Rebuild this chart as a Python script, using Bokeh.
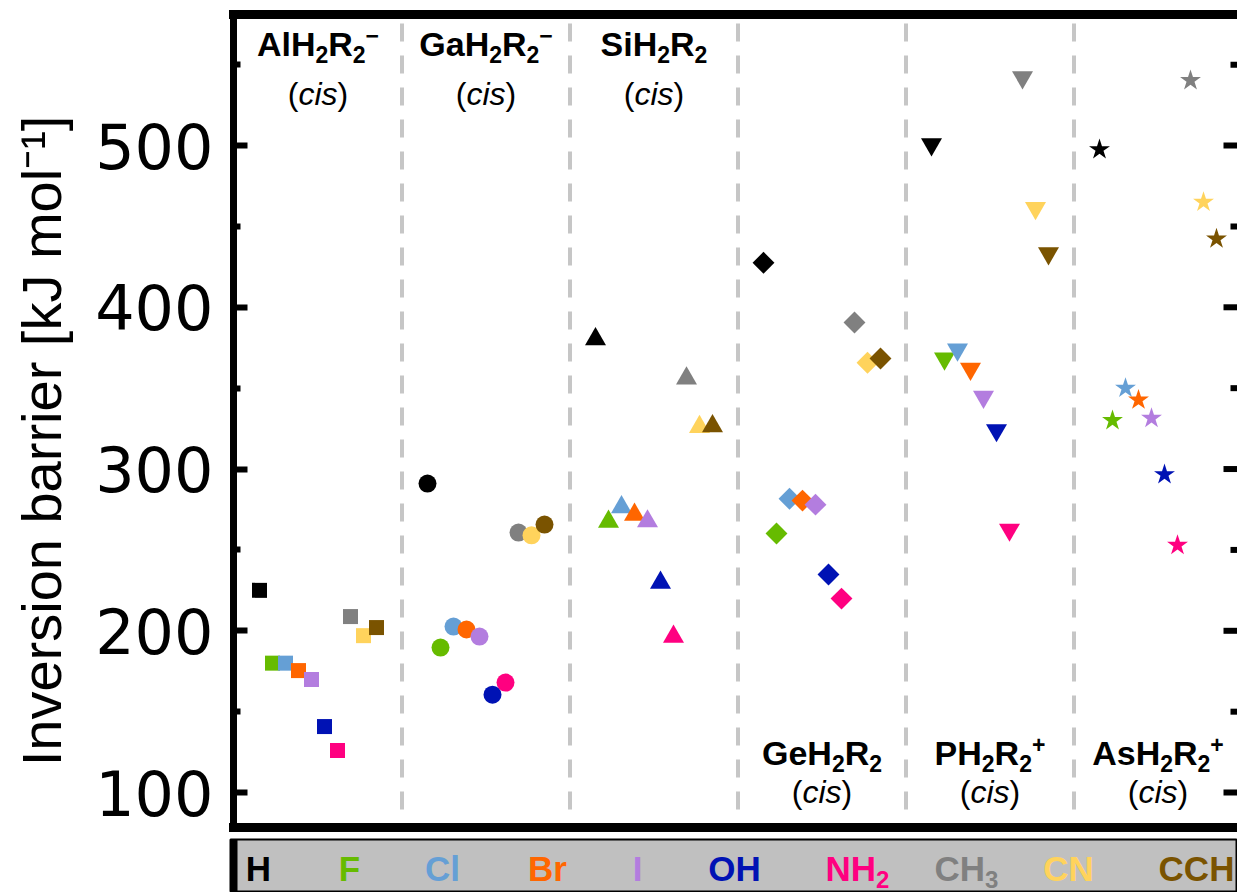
import math
from bokeh.plotting import figure
from bokeh.models import Range1d, LinearAxis, FixedTicker, ColumnDataSource
from bokeh.layouts import column, row
from bokeh.embed import file_html
from bokeh.resources import INLINE
from bokeh.core.properties import value

# ---------------- data ----------------
# "_x" = subscript character, "^x" = superscript character
substituents = ["H", "F", "Cl", "Br", "I", "OH", "NH_2", "CH_3", "CN", "CCH"]
sub_colors = ["#000000", "#66bb00", "#659fd5", "#ff6600", "#b37ddf",
              "#0012b4", "#ff0080", "#808080", "#ffd35c", "#7a5300"]

groups = ["AlH_2R_2^−", "GaH_2R_2^−", "SiH_2R_2", "GeH_2R_2", "PH_2R_2^+", "AsH_2R_2^+"]
group_markers = ["square", "circle", "triangle", "square", "inverted_triangle", "star"]

alh2r2 = [225, 180, 180, 175.4, 169.9, 140.8, 126, 208.8, 197, 202]
gah2r2 = [291, 189.6, 202.6, 200.8, 196.4, 160.5, 168, 260.7, 259, 265.7]
sih2r2 = [380.3, 267.5, 276.4, 271.8, 267.7, 229.8, 196.4, 356, 326, 326.5]
geh2r2 = [427.5, 260.1, 281.6, 280.5, 278, 234.8, 219.9, 390.6, 365.7, 368.3]
ph2r2 = [500.7, 368.3, 373.9, 362, 344.6, 324, 262.5, 542.2, 461.3, 433.4]
ash2r2 = [497.5, 330, 350, 342.7, 331.4, 296.6, 252.9, 540.2, 465, 442.3]
barriers = [alh2r2, gah2r2, sih2r2, geh2r2, ph2r2, ash2r2]

y_ticks = [100, 200, 300, 400, 500]
y_minor = [150, 250, 350, 450, 550]
y_title = "Inversion barrier [kJ mol⁻¹]"

# ---------------- layout / style ----------------
W = 1237
MAIN_H = 837
LEG_H = 55
TW = 80                      # width of the y-title strip
LEFT = 233                   # frame left edge in page pixels
PX_PER_GROUP = 168.0
GROUP0_PX = 317.5
SLOT = 13.0 / PX_PER_GROUP
X0 = (LEFT - GROUP0_PX) / PX_PER_GROUP
X1 = X0 + (W - LEFT) / PX_PER_GROUP
Y0, Y1 = 78.4, 581.0
FRAME_TOP, FRAME_BOT = 14, MAIN_H - 10
PX_PER_Y = (FRAME_BOT - FRAME_TOP) / (Y1 - Y0)
MID = 0.35                   # em-box middle above the baseline

FONT = "Liberation Sans"
BOLD_W = {"A": 722, "l": 278, "H": 722, "R": 722, "G": 778, "a": 556, "S": 667,
          "i": 278, "e": 556, "P": 667, "s": 556, "F": 611, "C": 722, "B": 722,
          "r": 389, "I": 278, "O": 778, "N": 722, "−": 584, "+": 584}
for d in "0123456789":
    BOLD_W[d] = 556


def parse(markup):
    parts, i = [], 0
    while i < len(markup):
        ch = markup[i]
        if ch in "_^" and i + 1 < len(markup):
            parts.append((markup[i + 1], "sub" if ch == "_" else "sup"))
            i += 2
        else:
            if parts and parts[-1][1] == "n":
                parts[-1] = (parts[-1][0] + ch, "n")
            else:
                parts.append((ch, "n"))
            i += 1
    return parts


def draw_formula(fig, markup, cx, base_y, color, size, small, x_per_px, y_per_px,
                 sub_drop=7, sup_rise=12):
    """base_y: alphabetic baseline of the main text (data units)."""
    parts = parse(markup)
    widths = []
    for txt, kind in parts:
        fs = size if kind == "n" else small
        widths.append(sum(BOLD_W.get(c, 600) for c in txt) / 1000 * fs)
    x = cx - sum(widths) / 2 * x_per_px
    for (txt, kind), w in zip(parts, widths):
        fs = size if kind == "n" else small
        shift = 0
        if kind == "sub":
            shift = -sub_drop
        elif kind == "sup":
            shift = sup_rise
        yy = base_y + (shift + MID * fs) * y_per_px
        fig.text(x=[x], y=[yy], text=[txt], text_color=color, text_font=value(FONT),
                 text_font_style="bold", text_font_size=f"{fs}px",
                 text_align="left", text_baseline="middle")
        x += w * x_per_px


def px_to_y(py):
    return Y0 + (FRAME_BOT - py) / PX_PER_Y


marker_sizes = {"square": 15, "circle": 18, "triangle": 21,
                "inverted_triangle": 21, "star": 22}

# ---------------- y-title strip ----------------
tfig = figure(width=TW, height=MAIN_H, x_range=Range1d(0, TW), y_range=Range1d(0, MAIN_H),
              output_backend="svg", toolbar_location=None,
              x_axis_location=None, y_axis_location=None, min_border=0,
              outline_line_color=None, background_fill_color="white", border_fill_color="white")
tfig.grid.visible = False
T_SIZE = 56
tfig.text(x=[61 - MID * T_SIZE], y=[MAIN_H - 774], text=[y_title], angle=math.pi / 2,
          text_align="left", text_baseline="middle", text_font=value(FONT),
          text_font_size=f"{T_SIZE}px", text_color="black")

# ---------------- main plot ----------------
p = figure(width=W - TW, height=MAIN_H, x_range=Range1d(X0, X1), y_range=Range1d(Y0, Y1),
           output_backend="svg", toolbar_location=None,
           x_axis_location=None, y_axis_location=None,
           min_border_left=LEFT - TW, min_border_right=0, min_border_top=FRAME_TOP,
           min_border_bottom=MAIN_H - FRAME_BOT,
           outline_line_color=None, background_fill_color="white", border_fill_color="white")
p.grid.visible = False

yax = LinearAxis(ticker=FixedTicker(ticks=y_ticks, minor_ticks=y_minor),
                 axis_line_width=7, axis_line_cap="square",
                 major_tick_in=14, major_tick_out=0, minor_tick_in=7, minor_tick_out=0,
                 major_tick_line_width=6, minor_tick_line_width=6,
                 major_label_text_font="DejaVu Sans", major_label_text_font_size="62px",
                 major_label_text_color="black", major_label_standoff=20)
p.add_layout(yax, "left")

for loc in ("above", "below"):
    ax = LinearAxis(ticker=FixedTicker(ticks=[]), axis_line_width=9, axis_line_cap="square",
                    major_tick_in=0, major_tick_out=0, major_label_standoff=0)
    p.add_layout(ax, loc)

# right-hand inward ticks
xr = X1 + 0.05
p.segment(x0=[X1 - 14 / PX_PER_GROUP] * len(y_ticks), y0=y_ticks, x1=[xr] * len(y_ticks),
          y1=y_ticks, line_color="black", line_width=6)
p.segment(x0=[X1 - 7 / PX_PER_GROUP] * len(y_minor), y0=y_minor, x1=[xr] * len(y_minor),
          y1=y_minor, line_color="black", line_width=6)

# dashed group separators
for g in range(len(groups) - 1):
    p.segment(x0=[g + 0.5], y0=[Y1 - 5.6], x1=[g + 0.5], y1=[Y0],
              line_color="#c6c6c6", line_width=4, line_dash="18 14")

# markers
for g, (vals, mk) in enumerate(zip(barriers, group_markers)):
    xs = [g + (i - 4.5) * SLOT for i in range(len(vals))]
    src = ColumnDataSource(dict(x=xs, y=vals, c=sub_colors))
    kw = {}
    size = marker_sizes[mk]
    if g == 3:
        kw["angle"] = math.pi / 4
        size = 15.5
    p.scatter("x", "y", source=src, marker=mk, size=size, fill_color="c",
              line_color=None, **kw)

# group labels
xpp = 1 / PX_PER_GROUP
ypp = 1 / PX_PER_Y
TOP_T, TOP_C = px_to_y(55), px_to_y(105)
BOT_T, BOT_C = px_to_y(764), px_to_y(803)
half = 19.5 * xpp
CIS = 32
for g, name in enumerate(groups):
    yt, yc = (TOP_T, TOP_C) if g < 3 else (BOT_T, BOT_C)
    draw_formula(p, name, g, yt, "black", 34, 23, xpp, ypp)
    ym = yc + MID * CIS * ypp
    common = dict(text_font=value(FONT), text_font_size=f"{CIS}px",
                  text_color="black", text_baseline="middle")
    p.text(x=[g - half], y=[ym], text=["("], text_align="right", **common)
    p.text(x=[g], y=[ym], text=["cis"], text_align="center", text_font_style="italic", **common)
    p.text(x=[g + half], y=[ym], text=[")"], text_align="left", **common)

# ---------------- legend strip ----------------
LEG_LEFT = 230
XL0 = (LEG_LEFT - GROUP0_PX) / PX_PER_GROUP
leg = figure(width=W, height=LEG_H, x_range=Range1d(XL0, X1), y_range=Range1d(0, 1),
             output_backend="svg", toolbar_location=None,
             x_axis_location=None, y_axis_location=None,
             min_border_left=LEG_LEFT, min_border_right=0, min_border_top=2, min_border_bottom=0,
             background_fill_color="#c0c0c0", border_fill_color="white",
             outline_line_color="black", outline_line_width=2)
leg.grid.visible = False
leg.quad(left=[XL0], right=[XL0 + 7 / PX_PER_GROUP], bottom=[0], top=[1],
         fill_color="black", line_color=None)

legend_px = [258, 349, 442, 547, 637, 734, 857, 966, 1068, 1196]
leg_frame_h = LEG_H - 2
for s, c, px in zip(substituents, sub_colors, legend_px):
    draw_formula(leg, s, (px - GROUP0_PX) / PX_PER_GROUP, 12 / leg_frame_h, c, 35, 24,
                 xpp, 1 / leg_frame_h, sub_drop=7, sup_rise=12)

layout = column(row(tfig, p, spacing=0), leg, spacing=0)
open("out.html", "w").write(file_html(layout, INLINE))
